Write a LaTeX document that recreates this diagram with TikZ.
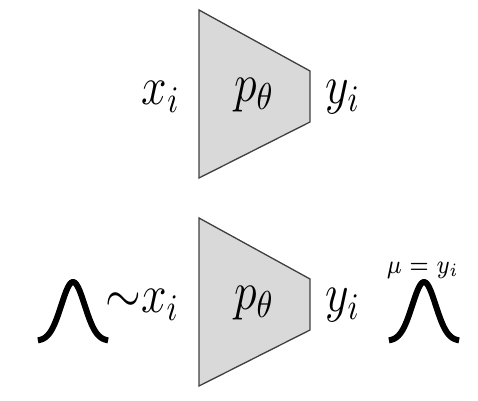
\documentclass[tikz,border=0pt]{standalone}
\usepackage{amsmath}
\usepackage{graphicx}
\usepackage{tikz}
\usetikzlibrary{positioning}
\newcommand{\narrow}[1]{\scalebox{0.85}[1]{#1}}
\tikzset{
  net/.style={draw=black!75, fill=black!15, line width=0.35pt},
  lbl/.style={inner sep=0pt, anchor=center, font=\fontsize{14.4}{17}\selectfont},
  bell/.style={line width=1.6pt, smooth, samples=60, domain=-3:3},
  tag/.style={inner sep=0pt, font=\scriptsize},
}
\begin{document}
\begin{tikzpicture}[x=0.2667pt, y=-0.2667pt]
  \useasboundingbox (0,0) rectangle (478,401);
  % encoder without input distribution
  \draw[net] (199,10) -- (310,71) -- (310,122) -- (199,178) -- cycle;
  \node[lbl] (ptop) at (254,95) {\narrow{$p_\theta$}};
  \node[lbl] (xtop) at (161,97) {\narrow{$x_i$}};
  \node[lbl] (ytop) at (343,97) {\narrow{$y_i$}};
  % encoder with distributions
  \draw[net] (199,218) -- (310,279) -- (310,330) -- (199,386) -- cycle;
  \node[lbl] (pbot) at (254,303) {\narrow{$p_\theta$}};
  \node[lbl, anchor=east] (xbot) at (180,305) {\narrow{${\sim}x_i$}};
  \node[lbl] (ybot) at (343,305) {\narrow{$y_i$}};
  \draw[bell] plot ({73+11.7*\x}, {341-59*exp(-\x*\x/2)});
  \draw[bell] plot ({424+11.7*\x}, {341-59*exp(-\x*\x/2)});
  \node[tag] (mu) at (423,270) {\narrow{$\mu = y_i$}};
\end{tikzpicture}
\end{document}
